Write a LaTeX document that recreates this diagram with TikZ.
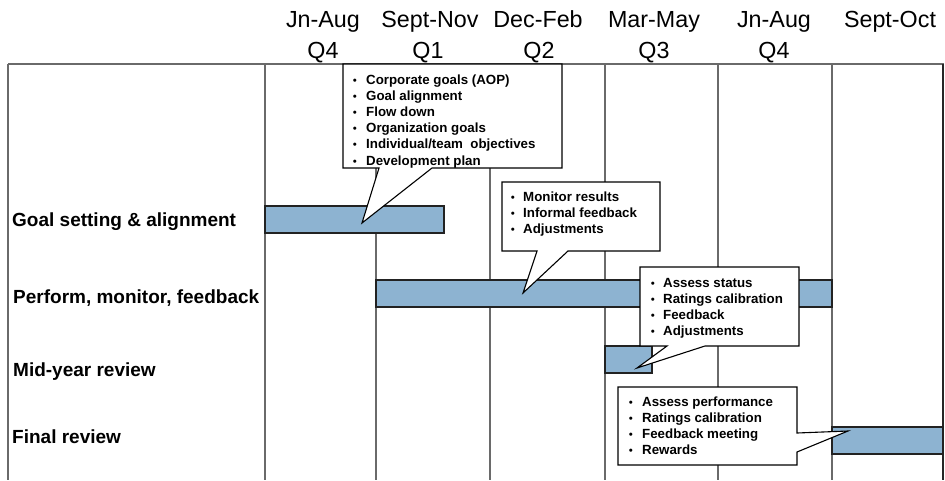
\documentclass[tikz,border=0pt]{standalone}
\usepackage{fontspec}
\setmainfont{Liberation Sans}
\definecolor{gridgray}{HTML}{6A6A6A}
\definecolor{barblue}{HTML}{8DB3D1}
\definecolor{barline}{HTML}{222222}
\tikzset{
  gridline/.style={draw=gridgray, line width=1.3pt},
  bar/.style={fill=barblue, draw=barline, line width=1.2pt},
  callout/.style={fill=white, draw=black, line width=1.1pt, line join=miter},
  period/.style={anchor=base, inner sep=0pt, font=\fontsize{23.3}{28}\selectfont},
  rowlabel/.style={anchor=base west, inner sep=0pt, font=\fontsize{19}{22}\selectfont\bfseries},
  itemtext/.style={anchor=base west, inner sep=0pt, font=\fontsize{13.3}{16}\selectfont\bfseries},
  itembullet/.style={anchor=base, inner sep=0pt, font=\fontsize{11.5}{16}\selectfont},
}
% bullet list: name, bullet x, text x, first baseline y, items
\newcommand\bulletlist[5]{%
  \foreach \t [count=\i] in {#5}{%
    \node[itembullet] (#1b\i) at (#2, #4+16.2*\i-16.2) {\textbullet};
    \node[itemtext] (#1t\i) at (#3, #4+16.2*\i-16.2) {\t};
  }%
}
\begin{document}
\begin{tikzpicture}[x=1pt, y=-1pt]
\useasboundingbox (0,0) rectangle (945,480);

% period headings
\node[period] (h1) at (323,27) {Jn-Aug};
\node[period] (h2) at (430,27) {Sept-Nov};
\node[period] (h3) at (538,27) {Dec-Feb};
\node[period] (h4) at (654,27) {Mar-May};
\node[period] (h5) at (774,27) {Jn-Aug};
\node[period] (h6) at (890,27) {Sept-Oct};
\node[period] (q1) at (323,58) {Q4};
\node[period] (q2) at (428,58) {Q1};
\node[period] (q3) at (539,58) {Q2};
\node[period] (q4) at (654,58) {Q3};
\node[period] (q5) at (774,58) {Q4};

% grid
\draw[gridline] (8,64) -- (944,64);
\foreach \gx in {8,265,376,490,605,718,832}{
  \draw[gridline] (\gx,64) -- (\gx,480);
}
\draw[line width=1.3pt, draw=black!85] (943,64) -- (943,480);

% phase labels
\node[rowlabel] (r1) at (12,226) {Goal setting \& alignment};
\node[rowlabel] (r2) at (13,303) {Perform, monitor, feedback};
\node[rowlabel] (r3) at (13,376) {Mid-year review};
\node[rowlabel] (r4) at (12,443) {Final review};

% schedule bars
\draw[bar] (265,206) rectangle (444,233);
\draw[bar] (376,280) rectangle (832,307);
\draw[bar] (605,346) rectangle (652,373);
\draw[bar] (832,427) rectangle (943,454);

% callout pointer tips
\coordinate (tip1) at (362,223);
\coordinate (tip2) at (523,293);
\coordinate (tip3) at (637,368);
\coordinate (tip4) at (848,431);

% callouts
\draw[callout] (343,64) -- (562,64) -- (562,168) -- (432,168) -- (tip1) -- (379,168) -- (343,168) -- cycle;
\draw[callout] (502,182) -- (660,182) -- (660,251) -- (568,251) -- (tip2) -- (537,251) -- (502,251) -- cycle;
\draw[callout] (640,267) -- (799,267) -- (799,346) -- (705,346) -- (tip3) -- (667,346) -- (640,346) -- cycle;
\draw[callout] (618,387) -- (797,387) -- (797,433) -- (tip4) -- (797,452) -- (797,465) -- (618,465) -- cycle;

\bulletlist{ca}{355}{366}{84}{Corporate goals (AOP),Goal alignment,Flow down,Organization goals,Individual/team~~objectives,Development plan}
\bulletlist{cb}{513}{523}{201}{Monitor results,Informal feedback,Adjustments}
\bulletlist{cc}{653}{663}{287}{Assess status,Ratings calibration,Feedback,Adjustments}
\bulletlist{cd}{631}{642}{406}{Assess performance,Ratings calibration,Feedback meeting,Rewards}
\end{tikzpicture}
\end{document}
